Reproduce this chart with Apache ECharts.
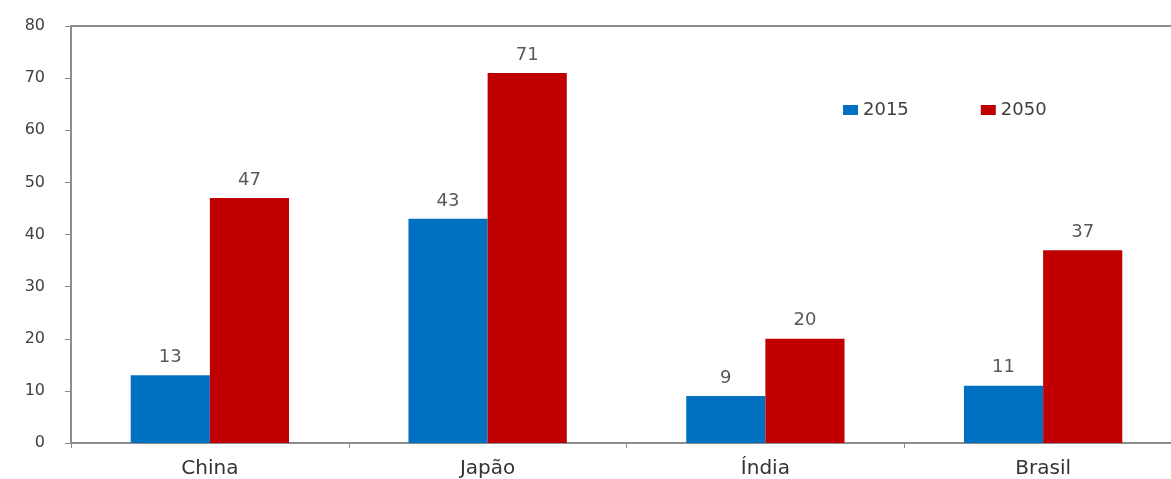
<!DOCTYPE html>
<html>
<head>
<meta charset="utf-8">
<script src="https://cdn.jsdelivr.net/npm/echarts@6/dist/echarts.min.js"></script>
<style>
  html, body { margin: 0; padding: 0; background: #fff; overflow: hidden; }
  /* plot runs past the right edge of the window, like the source image */
  #chart { width: 1182px; height: 479px; }
</style>
</head>
<body>
<div id="chart"></div>
<script>
// 数据
const categories = ['China', 'Japão', 'Índia', 'Brasil']
const values2015 = [13, 43, 9, 11]
const values2050 = [47, 71, 20, 37]
const seriesNames = ['2015', '2050']

const labelFont = {
  fontFamily: 'DejaVu Sans',
  fontSize: 18,
  color: '#595959',
}

const chart = echarts.init(document.getElementById('chart'))

chart.setOption({
  animation: false,
  backgroundColor: '#fff',
  color: ['#0070C0', '#C00000'],
  grid: { left: 71, right: 0, top: 26, bottom: 35 },
  legend: {
    left: 838,
    top: 96,
    itemWidth: 15,
    itemHeight: 10,
    itemGap: 72,
    icon: 'rect',
    textStyle: { ...labelFont, color: '#404040' },
    data: seriesNames,
  },
  xAxis: {
    type: 'category',
    data: categories,
    axisLine: { lineStyle: { color: '#8c8c8c', width: 2 } },
    axisTick: { show: true, length: 5, lineStyle: { color: '#8c8c8c' } },
    axisLabel: { ...labelFont, fontSize: 20, color: '#333', margin: 16 },
  },
  yAxis: {
    type: 'value',
    min: 0,
    max: 80,
    interval: 10,
    axisLine: { show: true, lineStyle: { color: '#8c8c8c', width: 2 } },
    axisTick: { show: true, length: 6, lineStyle: { color: '#8c8c8c' } },
    axisLabel: { ...labelFont, fontSize: 16, color: '#404040', margin: 26 },
    splitLine: { show: false },
  },
  series: [
    {
      name: seriesNames[0],
      type: 'bar',
      data: values2015,
      barGap: 0,
      barCategoryGap: '43%',
      label: { show: true, position: 'top', distance: 9, ...labelFont },
      markLine: {
        silent: true,
        symbol: 'none',
        label: { show: false },
        lineStyle: { color: '#8c8c8c', type: 'solid', width: 2 },
        data: [{ yAxis: 80 }],
      },
    },
    {
      name: seriesNames[1],
      type: 'bar',
      data: values2050,
      barGap: 0,
      barCategoryGap: '43%',
      label: { show: true, position: 'top', distance: 9, ...labelFont },
    },
  ],
})
</script>
</body>
</html>
